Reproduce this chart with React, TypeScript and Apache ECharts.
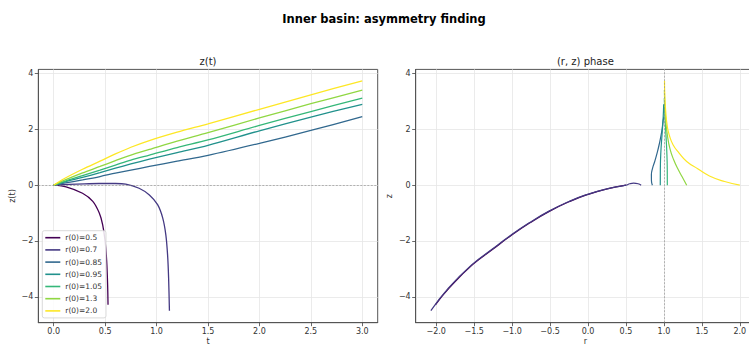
import React, { useEffect, useRef } from "react";
import * as echarts from "echarts";

// ---- data ----
const names = ["r(0)=0.5", "r(0)=0.7", "r(0)=0.85", "r(0)=0.95", "r(0)=1.05", "r(0)=1.3", "r(0)=2.0"];
const colors = ["#440154", "#443983", "#31688e", "#21918c", "#35b779", "#90d743", "#fde725"];

// z(t) panel
const t05 = [0, 0.12, 0.28, 0.38, 0.443, 0.476, 0.5, 0.515, 0.524, 0.528];
const z05 = [0, -0.06, -0.29, -0.58, -1.0, -1.42, -2.02, -2.73, -3.57, -4.29];
const t07 = [0, 0.15, 0.3, 0.44, 0.6, 0.7, 0.83, 0.93, 1.01, 1.06, 1.09, 1.107, 1.117, 1.125];
const z07 = [0, 0.03, 0.05, 0.06, 0.06, 0.04, -0.11, -0.35, -0.7, -1.18, -1.78, -2.5, -3.33, -4.5];
const tUp = [0, 0.1, 0.28, 0.45, 0.6, 0.75, 0.93, 1.2, 1.5, 2.0, 2.5, 3.0];
const z085 = [0, 0.07, 0.19, 0.31, 0.43, 0.54, 0.67, 0.86, 1.07, 1.5, 1.96, 2.46];
const z095 = [0, 0.11, 0.28, 0.45, 0.61, 0.76, 0.93, 1.17, 1.43, 1.95, 2.44, 2.9];
const z105 = [0, 0.13, 0.34, 0.54, 0.72, 0.9, 1.08, 1.35, 1.62, 2.14, 2.64, 3.12];
const z13 = [0, 0.17, 0.44, 0.67, 0.88, 1.08, 1.28, 1.58, 1.88, 2.41, 2.92, 3.41];
const z20 = [0, 0.23, 0.57, 0.86, 1.12, 1.36, 1.6, 1.9, 2.2, 2.72, 3.24, 3.74];

// (r, z) phase panel
const pr05 = [0.5, 0.24, -0.02, -0.24, -0.51, -0.77, -1.03, -1.25, -1.52, -1.83, -2.01];
const pz05 = [0, -0.14, -0.35, -0.585, -0.94, -1.36, -1.84, -2.29, -2.85, -3.69, -4.29];
const pr07 = [0.7, 0.66, 0.6, 0.55, 0.5, 0.235, -0.03, -0.25, -0.52, -0.78, -1.04, -1.26, -1.53, -1.84, -2.07];
const pz07 = [0, 0.05, 0.07, 0.05, 0.0, -0.14, -0.35, -0.585, -0.94, -1.36, -1.84, -2.29, -2.85, -3.69, -4.5];
const pr085 = [0.848, 0.836, 0.835, 0.85, 0.879, 0.91, 0.936, 0.971, 0.989, 1.0];
const pz085 = [0, 0.15, 0.37, 0.6, 0.85, 1.15, 1.44, 1.92, 2.3, 2.46];
const pr095 = [0.952, 0.953, 0.96, 0.975, 0.99, 0.997];
const pz095 = [0, 0.6, 1.2, 1.8, 2.4, 2.9];
const pr105 = [1.045, 1.044, 1.038, 1.025, 1.012, 1.005];
const pz105 = [0, 0.6, 1.2, 1.9, 2.6, 3.12];
const pr13 = [1.3, 1.24, 1.19, 1.13, 1.08, 1.045, 1.025, 1.012, 1.006];
const pz13 = [0, 0.3, 0.55, 0.9, 1.3, 1.8, 2.3, 2.9, 3.41];
const pr20 = [2.0, 1.8, 1.6, 1.45, 1.3, 1.2, 1.12, 1.07, 1.045, 1.025, 1.012, 1.008];
const pz20 = [0, 0.13, 0.33, 0.58, 0.85, 1.15, 1.45, 1.8, 2.1, 2.6, 3.2, 3.74];

const xTicksL = [0, 0.5, 1, 1.5, 2, 2.5, 3];
const xTicksR = [-2, -1.5, -1, -0.5, 0, 0.5, 1, 1.5, 2];
const yTicks = [-4, -2, 0, 2, 4];

const zip = (a: number[], b: number[]) => a.map((v, i) => [v, b[i]]);

const FONT = "DejaVu Sans";
const minus = (s: string) => s.replace("-", "\u2212");

export default function App() {
  const ref = useRef<HTMLDivElement>(null);
  useEffect(() => {
    if (!ref.current) return;
    const chart = echarts.init(ref.current, undefined, { renderer: "svg" });

    const leftData = [zip(t05, z05), zip(t07, z07), zip(tUp, z085), zip(tUp, z095), zip(tUp, z105), zip(tUp, z13), zip(tUp, z20)];
    const rightData = [zip(pr05, pz05), zip(pr07, pz07), zip(pr085, pz085), zip(pr095, pz095), zip(pr105, pz105), zip(pr13, pz13), zip(pr20, pz20)];

    const gridLine = { show: true, lineStyle: { color: "#e6e6e6", width: 0.8 } };
    const mkX = (idx: number, min: number, max: number, ticks: number[], name: string) => ({
      type: "value",
      gridIndex: idx,
      min,
      max,
      axisLine: { show: true, onZero: false, lineStyle: { color: "#555", width: 1 } },
      axisTick: { show: true, length: 3.5, lineStyle: { color: "#444", width: 0.8 }, customValues: ticks },
      axisLabel: {
        customValues: ticks,
        formatter: (v: number) => minus(v.toFixed(1)),
        fontSize: 8,
        fontFamily: FONT,
        color: "#333",
        margin: 5,
      },
      splitLine: gridLine,
      name,
      nameLocation: "middle",
      nameGap: 14,
      nameMoveOverlap: false,
      nameTextStyle: { fontSize: 8, fontFamily: FONT, color: "#333", lineHeight: 9 },
    });
    const mkY = (idx: number, name: string) => ({
      type: "value",
      gridIndex: idx,
      min: -4.93,
      max: 4.15,
      axisLine: { show: true, onZero: false, lineStyle: { color: "#555", width: 1 } },
      axisTick: { show: true, length: 3.5, lineStyle: { color: "#444", width: 0.8 }, customValues: yTicks },
      axisLabel: {
        customValues: yTicks,
        formatter: (v: number) => minus(String(Math.round(v))),
        fontSize: 8,
        fontFamily: FONT,
        color: "#333",
        margin: 5,
      },
      splitLine: gridLine,
      name,
      nameLocation: "middle",
      nameGap: 22,
      nameRotate: 90,
      nameMoveOverlap: false,
      nameTextStyle: { fontSize: 8, fontFamily: FONT, color: "#333" },
    });

    const series: any[] = [];
    names.forEach((n, i) => {
      const s: any = {
        type: "line",
        name: n,
        xAxisIndex: 0,
        yAxisIndex: 0,
        data: leftData[i],
        showSymbol: false,
        symbol: "none",
        smooth: 0.3,
        lineStyle: { color: colors[i], width: 1.3 },
        itemStyle: { color: colors[i] },
        z: 3,
      };
      if (i === 0) {
        s.markLine = {
          silent: true,
          symbol: ["none", "none"],
          label: { show: false },
          lineStyle: { color: "#888", width: 0.6, type: [2, 1.5] },
          data: [{ yAxis: 0 }],
        };
      }
      series.push(s);
    });
    names.forEach((n, i) => {
      const s: any = {
        type: "line",
        name: n,
        xAxisIndex: 1,
        yAxisIndex: 1,
        data: rightData[i],
        showSymbol: false,
        symbol: "none",
        smooth: 0.5,
        lineStyle: { color: colors[i], width: 1.2 },
        itemStyle: { color: colors[i] },
        z: 3,
      };
      if (i === 0) {
        s.markLine = {
          silent: true,
          symbol: ["none", "none"],
          label: { show: false },
          lineStyle: { color: "#888", width: 0.6, type: [2, 1.5] },
          data: [{ xAxis: 1 }],
        };
      }
      series.push(s);
    });

    chart.setOption({
      animation: false,
      backgroundColor: "#fff",
      textStyle: { fontFamily: FONT },
      grid: [
        { left: 38.3, top: 69.4, width: 339.4, height: 253.3, show: true, borderColor: "#555", borderWidth: 1, backgroundColor: "transparent", outerBoundsMode: "none", containLabel: false },
        { left: 415.7, top: 69.4, width: 339.3, height: 253.3, show: true, borderColor: "#555", borderWidth: 1, backgroundColor: "transparent", outerBoundsMode: "none", containLabel: false },
      ],
      xAxis: [mkX(0, -0.15, 3.15, xTicksL, "t"), mkX(1, -2.27, 2.2, xTicksR, "r")],
      yAxis: [mkY(0, "z(t)"), mkY(1, "z")],
      legend: {
        data: names.map((n, i) => ({ name: n, icon: "rect", itemStyle: { color: colors[i] } })),
        orient: "vertical",
        left: 42.3,
        top: 230.7,
        itemWidth: 15,
        itemHeight: 1.6,
        itemGap: 4.2,
        padding: [3, 4, 3, 3],
        backgroundColor: "rgba(255,255,255,0.85)",
        borderColor: "#d0d0d0",
        borderWidth: 0.8,
        borderRadius: 2,
        textStyle: { fontSize: 7.5, fontFamily: FONT, color: "#333", lineHeight: 8 },
        selectedMode: false,
      },
      graphic: [
        { type: "text", x: 384, y: 19, style: { text: "Inner basin: asymmetry finding", font: `bold 11.5px '${FONT}'`, fill: "#000", textAlign: "center", textVerticalAlign: "middle" } },
        { type: "text", x: 208, y: 61, style: { text: "z(t)", font: `10px '${FONT}'`, fill: "#222", textAlign: "center", textVerticalAlign: "middle" } },
        { type: "text", x: 585.4, y: 61, style: { text: "(r, z) phase", font: `10px '${FONT}'`, fill: "#222", textAlign: "center", textVerticalAlign: "middle" } },
      ],
      series,
    });
    return () => chart.dispose();
  }, []);
  return <div ref={ref} style={{ position: "fixed", left: 0, top: 0, width: 749, height: 347, background: "#fff" }} />;
}
